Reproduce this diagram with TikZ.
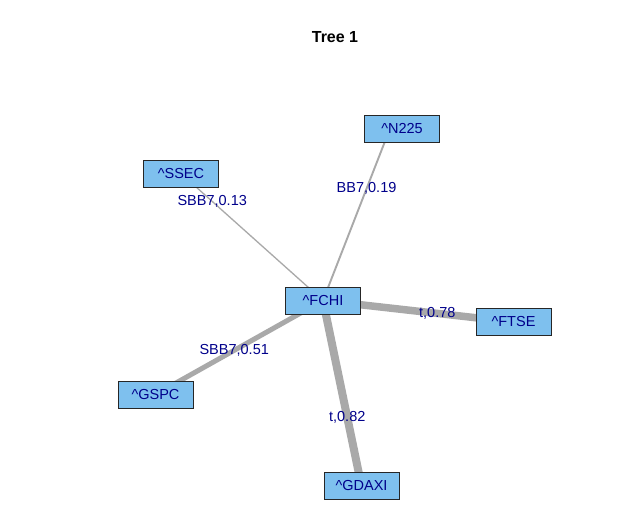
\documentclass[tikz,border=0pt]{standalone}
\usepackage{fontspec}
\setmainfont{Liberation Sans}
\usetikzlibrary{positioning,backgrounds}

\begin{document}
\begin{tikzpicture}[x=1pt,y=-1pt]
	\definecolor{vfill}{RGB}{126,192,238}
	\definecolor{vtext}{RGB}{0,0,139}
	\definecolor{egray}{RGB}{169,169,169}
	\tikzset{
		vbox/.style={
			rectangle, draw=black!85, fill=vfill, line width=0.8pt,
			minimum width=75pt, minimum height=27pt, inner sep=0pt,
			text=vtext, font=\fontsize{14.5}{16}\selectfont
		},
		tie/.style={
			draw=egray, line width=#1
		},
		elab/.style={
			text=vtext, inner sep=0pt, font=\fontsize{14.5}{16}\selectfont
		}
	}
	
	\useasboundingbox (0,0) rectangle (633,525);
	
	% ======= title =======
	\node[font=\bfseries\fontsize{16}{18}\selectfont] (title) at (335,37) {Tree 1};
	
	% ======= vertices =======
	\node[vbox] (fchi)  at (323.0,300.5) {\textasciicircum FCHI};
	\node[vbox] (ssec)  at (181.0,173.5) {\textasciicircum SSEC};
	\node[vbox] (n225)  at (402.0,128.5) {\textasciicircum N225};
	\node[vbox] (ftse)  at (513.5,322.0) {\textasciicircum FTSE};
	\node[vbox] (gspc)  at (155.5,394.5) {\textasciicircum GSPC};
	\node[vbox] (gdaxi) at (361.5,486.0) {\textasciicircum GDAXI};
	
	% ======= edges, weight = line width =======
	\begin{scope}[on background layer]
		\fill[white] (0,0) rectangle (633,525);
		\draw[tie=1.3pt] (fchi.center) -- node[elab,pos=0.78] {SBB7,0.13} (ssec.center);
		\draw[tie=1.9pt] (fchi.center) -- node[elab,pos=0.65] {BB7,0.19} ([xshift=-12pt]n225.center);
		\draw[tie=7.5pt] (fchi.center) -- node[elab,pos=0.60] {t,0.78} (ftse.center);
		\draw[tie=5pt]   (fchi.center) -- node[elab,pos=0.53] {SBB7,0.51} (gspc.center);
		\draw[tie=8pt]   (fchi.center) -- node[elab,pos=0.63] {t,0.82} (gdaxi.center);
	\end{scope}
	
\end{tikzpicture}
\end{document}
